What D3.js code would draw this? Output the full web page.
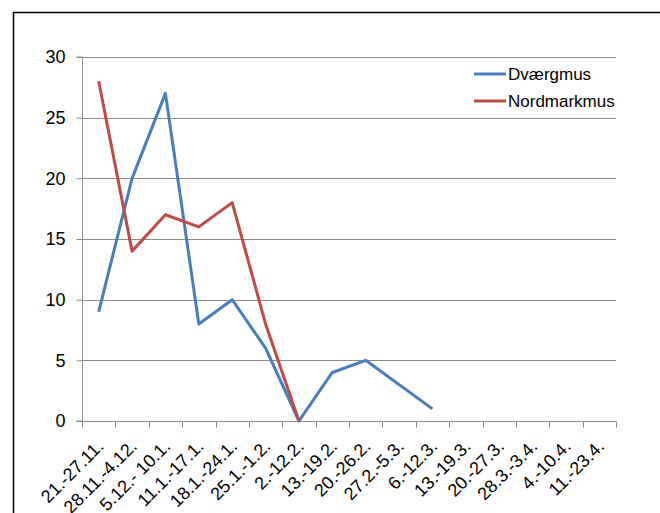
<!DOCTYPE html>
<html>
<head>
<meta charset="utf-8">
<script src="https://cdn.jsdelivr.net/npm/d3@7"></script>
<style>
  html, body { margin: 0; padding: 0; background: #fff; }
  svg { display: block; font-family: "Liberation Sans", Arial, sans-serif; }
</style>
</head>
<body>
<svg id="chart" width="660" height="513"></svg>
<script>
// Weekly catch counts per species
const weeks = ["21.-27.11.", "28.11.-4.12.", "5.12.- 10.1.", "11.1.-17.1.", "18.1.-24.1.", "25.1.-1.2.",
  "2.-12.2.", "13.-19.2.", "20.-26.2.", "27.2.-5.3.", "6.-12.3.", "13.-19.3.", "20.-27.3.",
  "28.3.-3.4.", "4.-10.4.", "11.-23.4."];
const dvaergmus = [9, 20, 27, 8, 10, 6, 0, 4, 5, null, 1, null, null, null, null, null];
const nordmarkmus = [28, 14, 17, 16, 18, 8, 0, null, null, null, null, null, null, null, null, null];
const yTicks = [0, 5, 10, 15, 20, 25, 30];
const seriesNames = ["Dværgmus", "Nordmarkmus"];
const seriesColors = ["#4a7ebb", "#be4b48"];

const svg = d3.select("#chart");

// outer frame
svg.append("rect").attr("x", 13.5).attr("y", 12.5).attr("width", 660).attr("height", 520)
  .attr("fill", "none").attr("stroke", "#000").attr("stroke-width", 1.5);

const plotLeft = 82, plotRight = 616, plotTop = 57, plotBottom = 421;

const x = d3.scaleBand().domain(weeks).range([plotLeft, plotRight]);
const y = d3.scaleLinear().domain([0, 30]).range([plotBottom, plotTop]);

// horizontal gridlines
svg.append("g").selectAll("line").data(yTicks.filter(t => t > 0)).join("line")
  .attr("x1", plotLeft).attr("x2", plotRight)
  .attr("y1", d => Math.round(y(d)) + 0.5).attr("y2", d => Math.round(y(d)) + 0.5)
  .attr("stroke", "#8c8c8c").attr("stroke-width", 1);

// y axis
const yAxis = svg.append("g").attr("transform", `translate(${plotLeft + 0.5},0)`)
  .call(d3.axisLeft(y).tickValues(yTicks).tickSize(6).tickPadding(11));
yAxis.selectAll("path, line").attr("stroke", "#8c8c8c");
yAxis.select(".domain").attr("d", `M-6,${plotTop}H0V${plotBottom}H-6`);
yAxis.selectAll("text").attr("font-size", 18).attr("fill", "#000")
  .attr("font-family", "Liberation Sans, Arial, sans-serif");

// x axis with ticks on category boundaries
const xg = svg.append("g").attr("transform", `translate(0,${Math.round(plotBottom) + 0.5})`);
xg.append("line").attr("x1", plotLeft).attr("x2", plotRight).attr("stroke", "#8c8c8c");
const bounds = weeks.map(w => x(w)).concat([plotRight]);
xg.selectAll("line.tick").data(bounds).join("line").attr("class", "tick")
  .attr("x1", d => Math.round(d) + 0.5).attr("x2", d => Math.round(d) + 0.5)
  .attr("y1", 0).attr("y2", 6).attr("stroke", "#8c8c8c");
xg.selectAll("text").data(weeks).join("text")
  .attr("transform", d => `translate(${x(d) + x.bandwidth() / 2 + 6},${26}) rotate(-45)`)
  .attr("text-anchor", "end").attr("font-size", 18).attr("fill", "#000")
  .text(d => d);

// series lines
const line = d3.line().x(d => x(d.w) + x.bandwidth() / 2).y(d => y(d.v));
[dvaergmus, nordmarkmus].forEach((vals, i) => {
  const pts = vals.map((v, j) => ({ w: weeks[j], v })).filter(d => d.v !== null);
  svg.append("path").datum(pts).attr("d", line)
    .attr("fill", "none").attr("stroke", seriesColors[i]).attr("stroke-width", 3)
    .attr("stroke-linejoin", "round");
});

// legend
const lg = svg.append("g");
seriesNames.forEach((name, i) => {
  const ly = 74 + i * 27;
  lg.append("line").attr("x1", 474).attr("x2", 506).attr("y1", ly).attr("y2", ly)
    .attr("stroke", seriesColors[i]).attr("stroke-width", 3);
  lg.append("text").attr("x", 508).attr("y", ly + 6).attr("font-size", 17).attr("fill", "#000").text(name);
});
</script>
</body>
</html>
